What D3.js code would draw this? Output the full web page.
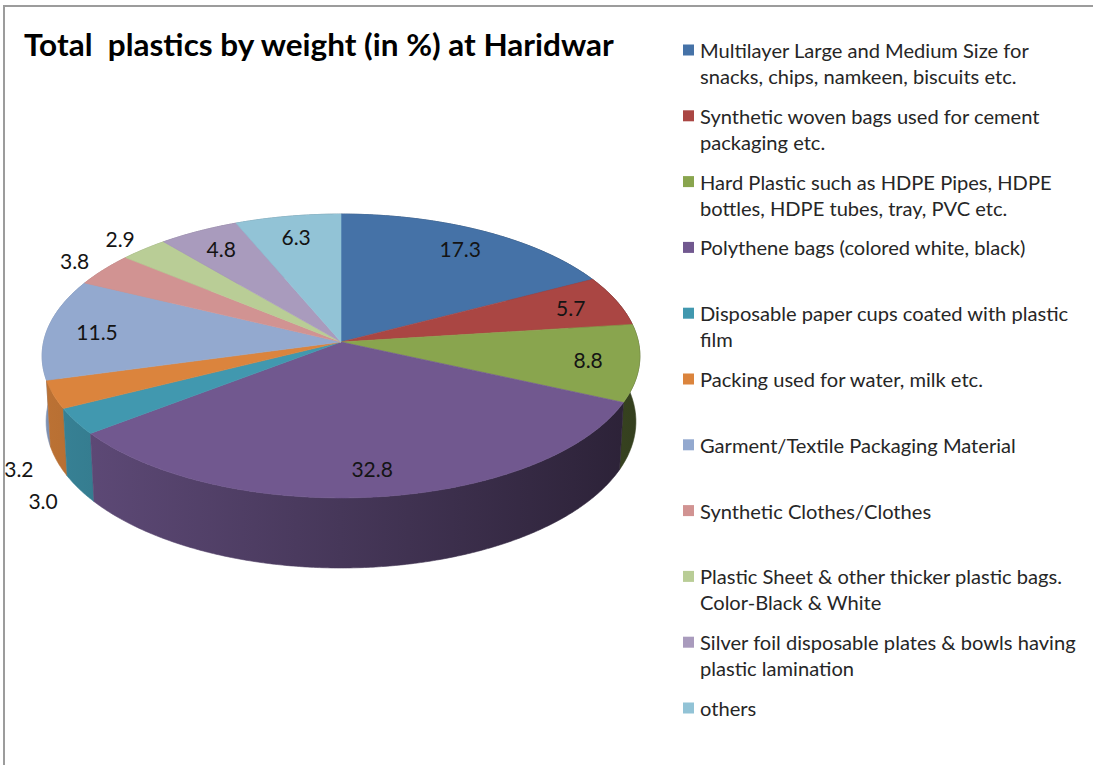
<!DOCTYPE html>
<html>
<head>
<meta charset="utf-8">
<script src="https://cdn.jsdelivr.net/npm/d3@7"></script>
<style>
  html, body { margin: 0; background: #ffffff; overflow: hidden; }
  svg { display: block; overflow: hidden; }
</style>
</head>
<body>
<svg id="chart" width="1093" height="765"></svg>
<script>
// ---- data ----
const title = "Total  plastics by weight (in %) at Haridwar";

const categories = [
  "Multilayer Large and Medium Size for snacks, chips, namkeen, biscuits etc.",
  "Synthetic woven bags used for cement packaging etc.",
  "Hard Plastic such as HDPE Pipes, HDPE bottles, HDPE tubes, tray, PVC etc.",
  "Polythene bags (colored white, black)",
  "Disposable paper cups coated with plastic film",
  "Packing used for water, milk etc.",
  "Garment/Textile Packaging Material",
  "Synthetic Clothes/Clothes",
  "Plastic Sheet & other thicker plastic bags. Color-Black & White",
  "Silver foil disposable plates & bowls having plastic lamination",
  "others"
];

// legend text broken into the lines it is shown on
const legendLines = [
  ["Multilayer Large and Medium Size for", "snacks, chips, namkeen, biscuits etc."],
  ["Synthetic woven bags used for cement", "packaging etc."],
  ["Hard Plastic such as HDPE Pipes, HDPE", "bottles, HDPE tubes, tray, PVC etc."],
  ["Polythene bags (colored white, black)"],
  ["Disposable paper cups coated with plastic", "film"],
  ["Packing used for water, milk etc."],
  ["Garment/Textile Packaging Material"],
  ["Synthetic Clothes/Clothes"],
  ["Plastic Sheet & other thicker plastic bags.", "Color-Black & White"],
  ["Silver foil disposable plates & bowls having", "plastic lamination"],
  ["others"]
];

const values = [17.3, 5.7, 8.8, 32.8, 3.0, 3.2, 11.5, 3.8, 2.9, 4.8, 6.3];

const palette = ["#4572A7", "#AA4643", "#89A54E", "#71588F", "#4198AF", "#DB843D",
                 "#93A9CF", "#D19392", "#B9CD96", "#A99BBD", "#92C3D6"];

// ---- setup ----
const svg = d3.select("#chart");
const color = d3.scaleOrdinal().domain(d3.range(values.length)).range(palette);

// frame: left and top edges of the chart area
const gFrame = svg.append("g").attr("stroke", "#9c9c9c").attr("stroke-width", 2);
gFrame.append("line").attr("x1", 4).attr("y1", 5).attr("x2", 4).attr("y2", 765);
gFrame.append("line").attr("x1", 3).attr("y1", 6).attr("x2", 1093).attr("y2", 6);

// title, horizontally fitted to its box
const titleText = svg.append("text")
  .attr("x", 0).attr("y", 0)
  .style("white-space", "pre")
  .attr("font-family", "Lato, 'Open Sans', sans-serif")
  .attr("font-weight", "bold")
  .attr("font-size", 30)
  .attr("fill", "#000")
  .text(title);
const titleW = titleText.node().getComputedTextLength();
titleText.attr("transform", `translate(24,56) scale(${590 / titleW},1)`);

// ---- 3D pie geometry (perspective projection of a tilted disc) ----
const cam = { cx: 341, cy: 342, k: 2659, D: 8.94, elev: 28.2 * Math.PI / 180, h: 0.2525 };
const sinA = Math.sin(cam.elev), cosA = Math.cos(cam.elev);

// angle follows d3.pie: 0 at 12 o'clock, clockwise; r in disc radii; z = height (0 top face)
function project(angle, r, z) {
  const X = r * Math.sin(angle), Y = -r * Math.cos(angle);
  const depth = cam.D - Y * cosA - z * sinA;
  return [cam.cx + cam.k * X / depth, cam.cy + cam.k * (Y * sinA - z * cosA) / depth];
}

function arcPoints(a0, a1, r, z) {
  const n = Math.max(2, Math.ceil(Math.abs(a1 - a0) / (Math.PI / 360)));
  return d3.range(n + 1).map(i => project(a0 + (a1 - a0) * i / n, r, z));
}

const pie = d3.pie().sort(null).value(d => d);
const arcs = pie(values).map((d, i) => ({ ...d, i }));
const line = d3.line();

// side shading gradients
const defs = svg.append("defs");
arcs.forEach(d => {
  const base = d3.rgb(color(d.i));
  const shade = f => d3.rgb(base.r * f, base.g * f, base.b * f).formatHex();
  const g = defs.append("linearGradient")
    .attr("id", "side" + d.i)
    .attr("gradientUnits", "userSpaceOnUse")
    .attr("x1", 42).attr("x2", 640).attr("y1", 0).attr("y2", 0);
  g.append("stop").attr("offset", 0).attr("stop-color", shade(0.86));
  g.append("stop").attr("offset", 0.5).attr("stop-color", shade(0.62));
  g.append("stop").attr("offset", 1).attr("stop-color", shade(0.38));
});

// outer walls, far slices first
const nearness = d => d3.max(arcPoints(d.startAngle, d.endAngle, 1, 0), p => p[1]);
const sideOrder = arcs.slice().sort((a, b) => nearness(a) - nearness(b));

const gSides = svg.append("g");
gSides.selectAll("path")
  .data(sideOrder)
  .join("path")
  .attr("d", d => {
    const top = arcPoints(d.startAngle, d.endAngle, 1, 0);
    const bottom = arcPoints(d.endAngle, d.startAngle, 1, -cam.h);
    return line(top.concat(bottom)) + "Z";
  })
  .attr("fill", d => `url(#side${d.i})`)
  .attr("stroke", d => `url(#side${d.i})`)
  .attr("stroke-width", 0.6);

// top faces
const gTops = svg.append("g");
gTops.selectAll("path")
  .data(arcs)
  .join("path")
  .attr("d", d => {
    const pts = [project(0, 0, 0)].concat(arcPoints(d.startAngle, d.endAngle, 1, 0));
    return line(pts) + "Z";
  })
  .attr("fill", d => color(d.i))
  .attr("stroke", d => color(d.i))
  .attr("stroke-width", 0.6)
  .attr("stroke-linejoin", "round");

// data labels: inside for larger slices, outside for the small ones
const gLabels = svg.append("g")
  .attr("font-family", "Lato, 'Open Sans', sans-serif")
  .attr("font-size", 21)
  .attr("fill", "#141414")
  .attr("text-anchor", "middle")
  .attr("dominant-baseline", "central");

gLabels.selectAll("text")
  .data(arcs)
  .join("text")
  .attr("transform", d => {
    const mid = (d.startAngle + d.endAngle) / 2;
    let p;
    if (d.data >= 4) {
      p = project(mid, 0.83, 0);
    } else {
      const front = -Math.cos(mid) > 0;
      p = project(mid, 1.13, front ? -cam.h : 0);
    }
    return `translate(${p[0]},${p[1]})`;
  })
  .text(d => d.data.toFixed(1));

// ---- legend ----
const legendTop = 50, legendStep = 65.8, lineGap = 26;
const gLegend = svg.append("g")
  .attr("font-family", "Lato, 'Open Sans', sans-serif")
  .attr("font-size", 18.5)
  .attr("fill", "#262626");

const items = gLegend.selectAll("g.item")
  .data(legendLines.map((lines, i) => ({ lines, i, name: categories[i] })))
  .join("g")
  .attr("class", "item")
  .attr("transform", d => `translate(0,${legendTop + d.i * legendStep})`);

items.append("rect")
  .attr("x", 683).attr("y", -5.5)
  .attr("width", 11).attr("height", 11)
  .attr("fill", d => color(d.i));

const legendTexts = items.append("text")
  .attr("x", 0).attr("y", 0);

legendTexts.selectAll("tspan")
  .data(d => d.lines)
  .join("tspan")
  .attr("x", 0)
  .attr("y", (l, j) => 8 + j * lineGap)
  .text(l => l);

// fit the legend type width to its column
const firstW = legendTexts.filter(d => d.i === 0).select("tspan").node().getComputedTextLength();
legendTexts.attr("transform", `translate(700,0) scale(${329 / firstW},1)`);
</script>
</body>
</html>
